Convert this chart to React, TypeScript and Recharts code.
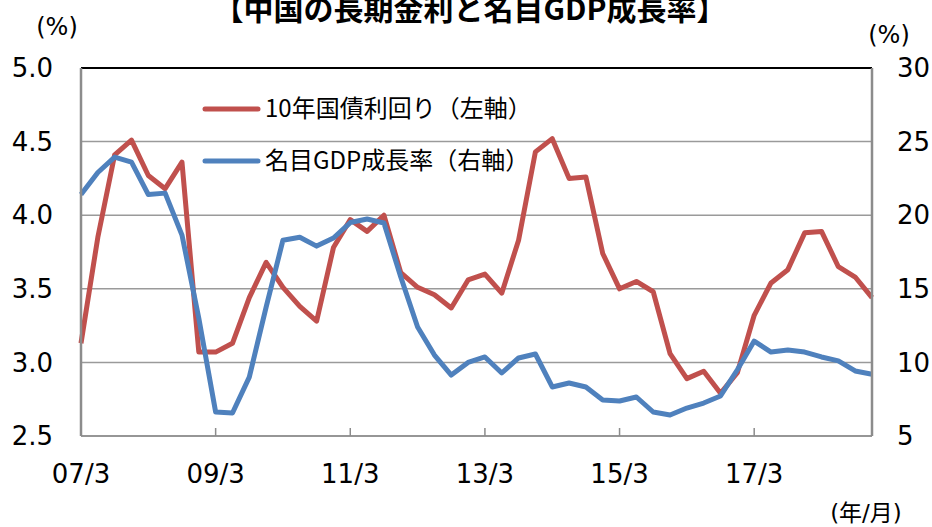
import React from 'react';
import { LineChart, Line, XAxis, YAxis, CartesianGrid, ReferenceLine } from 'recharts';

// quarter labels (yy/month)
const quarters = [
  '07/3', '07/6', '07/9', '07/12', '08/3', '08/6', '08/9', '08/12',
  '09/3', '09/6', '09/9', '09/12', '10/3', '10/6', '10/9', '10/12',
  '11/3', '11/6', '11/9', '11/12', '12/3', '12/6', '12/9', '12/12',
  '13/3', '13/6', '13/9', '13/12', '14/3', '14/6', '14/9', '14/12',
  '15/3', '15/6', '15/9', '15/12', '16/3', '16/6', '16/9', '16/12',
  '17/3', '17/6', '17/9', '17/12', '18/3', '18/6', '18/9', '18/12',
];

// 10年国債利回り (%), left axis
const bondYield = [
  3.13, 3.85, 4.41, 4.51, 4.27, 4.18, 4.36, 3.07, 3.07, 3.13,
  3.44, 3.68, 3.51, 3.38, 3.28, 3.78, 3.97, 3.89, 4.0, 3.61,
  3.51, 3.46, 3.37, 3.56, 3.6, 3.47, 3.83, 4.43, 4.52, 4.25,
  4.26, 3.74, 3.5, 3.55, 3.48, 3.06, 2.89, 2.94, 2.79, 2.93,
  3.32, 3.54, 3.63, 3.88, 3.89, 3.65, 3.58, 3.44,
];

// 名目GDP成長率 (%), right axis
const gdpGrowth = [
  21.4, 22.9, 23.95, 23.6, 21.4, 21.5, 18.65, 13.0, 6.63, 6.56,
  9.0, 13.76, 18.3, 18.5, 17.9, 18.45, 19.5, 19.74, 19.47, 15.8,
  12.4, 10.5, 9.14, 10.0, 10.37, 9.28, 10.3, 10.57, 8.33, 8.6,
  8.33, 7.45, 7.38, 7.65, 6.63, 6.43, 6.9, 7.24, 7.72, 9.5,
  11.45, 10.7, 10.84, 10.7, 10.37, 10.1, 9.42, 9.2,
];

const leftTicks = [2.5, 3.0, 3.5, 4.0, 4.5, 5.0];
const rightTicks = [5, 10, 15, 20, 25, 30];

const series = [
  { key: 'bond', name: '10年国債利回り（左軸）', color: '#C0504D', axis: 'left' },
  { key: 'gdp', name: '名目GDP成長率（右軸）', color: '#4F81BD', axis: 'right' },
];

const data = quarters.map((q, i) => ({ q, bond: bondYield[i], gdp: gdpGrowth[i] }));

const axisFont = { fontFamily: '"DejaVu Sans", Verdana, sans-serif', fontSize: 26, fill: '#000' };
const jpFont = '"Noto Sans CJK JP", "Noto Sans", sans-serif';

export default function App() {
  return (
    <div style={{ position: 'fixed', left: 0, top: 0, width: 932, height: 527, background: '#fff' }}>
      <LineChart width={932} height={527} data={data} margin={{ top: 68, right: 10, bottom: 31, left: 21 }}>
        <CartesianGrid yAxisId="left" vertical={false} stroke="#9a9a9a" strokeWidth={1.5} />
        <XAxis
          dataKey="q"
          interval={7}
          tickSize={-8}
          tickMargin={37}
          tick={axisFont}
          axisLine={{ stroke: '#8c8c8c', strokeWidth: 1.5 }}
          tickLine={{ stroke: '#8c8c8c', strokeWidth: 1.5 }}
          padding={{ left: 0, right: 0 }}
          height={60}
        />
        <YAxis
          yAxisId="left"
          domain={[2.5, 5]}
          ticks={leftTicks}
          tickFormatter={(v: number) => v.toFixed(1)}
          tick={axisFont}
          tickLine={false}
          tickSize={0}
          tickMargin={28}
          axisLine={{ stroke: '#8c8c8c', strokeWidth: 2.5 }}
          width={60}
        />
        <YAxis
          yAxisId="right"
          orientation="right"
          domain={[5, 30]}
          ticks={rightTicks}
          tick={axisFont}
          tickLine={false}
          tickSize={0}
          tickMargin={25}
          axisLine={{ stroke: '#8c8c8c', strokeWidth: 2.5 }}
          width={50}
        />
        <ReferenceLine yAxisId="left" y={5} stroke="#000" strokeWidth={2} />
        {series.map((s) => (
          <Line
            key={s.key}
            yAxisId={s.axis}
            dataKey={s.key}
            name={s.name}
            stroke={s.color}
            strokeWidth={5}
            strokeLinejoin="round"
            dot={false}
            activeDot={false}
            type="linear"
            isAnimationActive={false}
          />
        ))}
      </LineChart>
      <svg width={932} height={527} style={{ position: 'absolute', left: 0, top: 0, pointerEvents: 'none' }}>
        <text x={470} y={20} textAnchor="middle" fontFamily={jpFont} fontWeight="bold" fontSize={30} fill="#000">
          【中国の長期金利と名目GDP成長率】
        </text>
        <text x={57} y={35} textAnchor="middle" fontFamily='"DejaVu Sans", sans-serif' fontSize={24} fill="#000">(%)</text>
        <text x={889} y={43} textAnchor="middle" fontFamily='"DejaVu Sans", sans-serif' fontSize={24} fill="#000">(%)</text>
        <text x={866} y={521} textAnchor="middle" fontFamily={`"DejaVu Sans", ${jpFont}`} fontSize={23} fill="#000">(年/月)</text>
        {series.map((s, i) => (
          <g key={s.key}>
            <line x1={205} x2={258} y1={109 + i * 52} y2={109 + i * 52} stroke={s.color} strokeWidth={5} strokeLinecap="round" />
            <text x={265} y={109 + i * 52 + 8} fontFamily={jpFont} fontSize={24} fill="#000">{s.name}</text>
          </g>
        ))}
      </svg>
    </div>
  );
}
